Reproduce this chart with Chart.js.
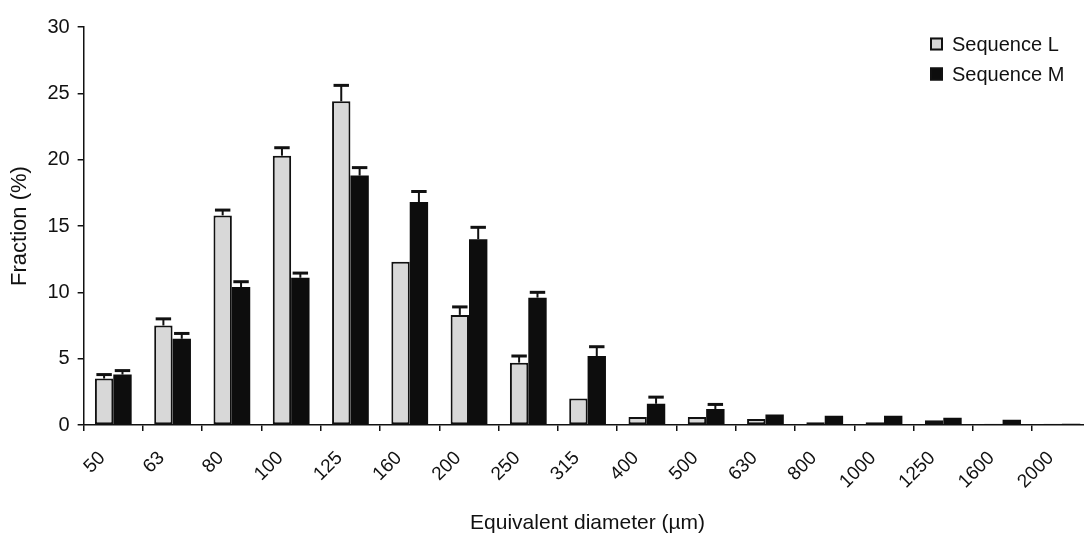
<!DOCTYPE html>
<html>
<head>
<meta charset="utf-8">
<title>Equivalent diameter distribution</title>
<script src="https://cdn.jsdelivr.net/npm/chart.js@4.4.1/dist/chart.umd.min.js"></script>
<style>
  html, body { margin: 0; padding: 0; background: #fff; overflow: hidden; }
  #wrap { width: 1094px; height: 534px; position: relative; }
</style>
</head>
<body>
<div id="wrap"><canvas id="myChart"></canvas></div>
<script>
// size classes (µm)
const diameters = ['50', '63', '80', '100', '125', '160', '200', '250', '315', '400', '500', '630', '800', '1000', '1250', '1600', '2000'];

// fraction per class (%) and upper error
const seqL = [3.5, 7.5, 15.8, 20.3, 24.4, 12.3, 8.3, 4.7, 2.0, 0.6, 0.6, 0.45, 0.2, 0.2, 0.35, 0.1, 0.1];
const errL = [0.3, 0.5, 0.4, 0.6, 1.2, 0, 0.6, 0.5, 0, 0, 0, 0, 0, 0, 0, 0, 0];
const seqM = [3.8, 6.5, 10.4, 11.1, 18.8, 16.8, 14.0, 9.6, 5.2, 1.6, 1.2, 0.8, 0.7, 0.7, 0.55, 0.4, 0.1];
const errM = [0.3, 0.4, 0.4, 0.35, 0.6, 0.8, 0.9, 0.4, 0.7, 0.5, 0.35, 0, 0, 0, 0, 0, 0];

const yTicks = [0, 5, 10, 15, 20, 25, 30];

const FONT = '"Liberation Sans", Arial, Helvetica, sans-serif';
const INK = '#111';

// upward error bars with a cap
const errorBars = {
  id: 'errorBars',
  afterDatasetsDraw(chart) {
    const ctx = chart.ctx;
    const y = chart.scales.y;
    chart.data.datasets.forEach((ds, i) => {
      const meta = chart.getDatasetMeta(i);
      meta.data.forEach((bar, j) => {
        const e = ds.errors[j];
        if (!e) return;
        const top = y.getPixelForValue(ds.data[j] + e);
        const half = bar.width * 0.42;
        ctx.save();
        ctx.strokeStyle = INK;
        ctx.lineWidth = 2;
        ctx.beginPath();
        ctx.moveTo(bar.x, bar.y);
        ctx.lineTo(bar.x, top);
        ctx.stroke();
        ctx.lineWidth = 3;
        ctx.beginPath();
        ctx.moveTo(bar.x - half, top);
        ctx.lineTo(bar.x + half, top);
        ctx.stroke();
        ctx.restore();
      });
    });
  }
};

// legend in the upper right corner of the plot
const cornerLegend = {
  id: 'cornerLegend',
  afterDraw(chart) {
    const ctx = chart.ctx;
    const x0 = 930, y0 = 44, gap = 30, box = 13;
    ctx.save();
    ctx.font = '20px ' + FONT;
    ctx.textBaseline = 'middle';
    chart.data.datasets.forEach((ds, i) => {
      const yy = y0 + i * gap;
      ctx.fillStyle = ds.backgroundColor;
      ctx.fillRect(x0, yy - box / 2, box, box);
      ctx.strokeStyle = INK;
      ctx.lineWidth = 2;
      ctx.strokeRect(x0 + 1, yy - box / 2 + 1, box - 2, box - 2);
      ctx.fillStyle = INK;
      ctx.fillText(ds.label, x0 + 22, yy + 1);
    });
    ctx.restore();
  }
};

const ctx = document.getElementById('myChart').getContext('2d');
new Chart(ctx, {
  type: 'bar',
  data: {
    labels: diameters,
    datasets: [
      {
        label: 'Sequence L',
        data: seqL,
        errors: errL,
        backgroundColor: '#d8d8d8',
        borderColor: INK,
        borderWidth: 2,
        borderSkipped: false
      },
      {
        label: 'Sequence M',
        data: seqM,
        errors: errM,
        backgroundColor: '#0d0d0d',
        borderColor: '#0d0d0d',
        borderWidth: 0
      }
    ]
  },
  options: {
    responsive: true,
    maintainAspectRatio: false,
    animation: false,
    layout: { padding: { top: 27, right: 0, left: 7, bottom: 0 } },
    datasets: {
      bar: { categoryPercentage: 0.62, barPercentage: 1.0 }
    },
    plugins: {
      legend: { display: false },
      tooltip: { enabled: false }
    },
    scales: {
      x: {
        offset: true,
        grid: {
          offset: true,
          drawOnChartArea: false,
          drawTicks: true,
          tickLength: 6,
          color: INK,
          lineWidth: 1.5
        },
        border: { display: true, color: INK, width: 1.5 },
        ticks: {
          color: INK,
          font: { family: FONT, size: 19 },
          minRotation: 45,
          maxRotation: 45,
          padding: 16,
          labelOffset: -11,
          autoSkip: false
        },
        title: {
          display: true,
          text: 'Equivalent diameter (µm)',
          color: INK,
          font: { family: FONT, size: 21, lineHeight: 1.0 },
          padding: { top: 4, bottom: 0 }
        }
      },
      y: {
        min: 0,
        max: 30,
        afterBuildTicks(axis) {
          axis.ticks = yTicks.map(v => ({ value: v }));
        },
        grid: {
          drawOnChartArea: false,
          drawTicks: true,
          tickLength: 6,
          color: INK,
          lineWidth: 1.5
        },
        border: { display: true, color: INK, width: 1.5 },
        ticks: {
          color: INK,
          font: { family: FONT, size: 20 },
          padding: 8
        },
        title: {
          display: true,
          text: 'Fraction (%)',
          color: INK,
          font: { family: FONT, size: 22 },
          padding: { top: 0, bottom: 6 }
        }
      }
    }
  },
  plugins: [errorBars, cornerLegend]
});
</script>
</body>
</html>
